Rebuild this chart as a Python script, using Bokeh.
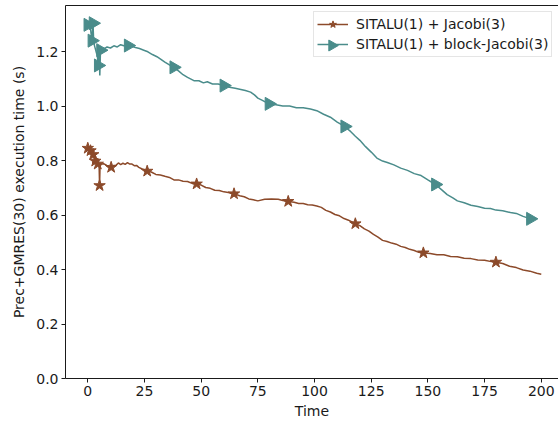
import math
from bokeh.plotting import figure
from bokeh.models import LinearAxis, FixedTicker, Legend, LegendItem
from bokeh.embed import file_html
from bokeh.resources import INLINE

# ---------------- data ----------------
jacobi_time = [0.0, 0.3, 0.6, 0.9, 1.2, 1.5, 1.8, 2.1, 2.4, 2.7, 3.0, 3.3, 3.6, 4.0, 4.4,
               4.8, 5.0, 5.2, 5.4, 6.0, 7.0, 8.0, 9.0, 10.3, 11.5, 12.5, 13.5, 14.5, 15.5,
               16.5, 17.5, 18.5, 19.5, 20.5, 21.5, 22.5, 24.0, 26.2, 28.0, 30.0, 32.0, 34.0,
               36.0, 38.0, 40.0, 42.0, 44.0, 46.0, 48.0, 50.0, 52.0, 54.0, 56.0, 58.0, 60.0,
               62.0, 64.5, 67.0, 69.0, 71.0, 73.0, 75.0, 78.0, 81.0, 84.0, 86.0, 88.4, 91.0,
               93.0, 95.0, 97.0, 99.0, 101.0, 103.0, 105.0, 107.0, 109.0, 111.0, 113.0,
               115.0, 118.0, 120.0, 122.0, 124.0, 126.0, 128.0, 130.0, 132.0, 134.0, 136.0,
               138.0, 140.0, 142.0, 144.0, 146.0, 148.0, 151.0, 154.0, 157.0, 160.0, 163.0,
               166.0, 169.0, 172.0, 175.0, 178.0, 180.0, 183.0, 186.0, 189.0, 192.0, 195.0,
               198.0, 200.0]
jacobi_value = [0.845, 0.836, 0.842, 0.830, 0.836, 0.824, 0.829, 0.816, 0.822, 0.810, 0.808,
                0.798, 0.797, 0.788, 0.787, 0.780, 0.781, 0.708, 0.780, 0.787, 0.788, 0.784,
                0.777, 0.775, 0.782, 0.783, 0.791, 0.785, 0.790, 0.786, 0.792, 0.787, 0.787,
                0.781, 0.782, 0.775, 0.769, 0.761, 0.758, 0.749, 0.747, 0.742, 0.738, 0.729,
                0.729, 0.724, 0.723, 0.716, 0.714, 0.710, 0.701, 0.698, 0.691, 0.690, 0.685,
                0.683, 0.678, 0.671, 0.667, 0.659, 0.656, 0.652, 0.658, 0.659, 0.658, 0.653,
                0.650, 0.647, 0.642, 0.642, 0.638, 0.637, 0.633, 0.628, 0.617, 0.611, 0.602,
                0.597, 0.587, 0.581, 0.568, 0.561, 0.549, 0.541, 0.529, 0.519, 0.507, 0.503,
                0.497, 0.493, 0.485, 0.481, 0.474, 0.470, 0.463, 0.461, 0.459, 0.454, 0.454,
                0.448, 0.447, 0.441, 0.440, 0.435, 0.434, 0.429, 0.427, 0.422, 0.412, 0.407,
                0.398, 0.394, 0.386, 0.383]
jacobi_marker_idx = [0, 4, 8, 11, 14, 17, 23, 37, 48, 56, 66, 80, 95, 106]

block_time = [0.0, 0.5, 1.0, 1.5, 1.8, 2.3, 2.6, 3.0, 3.4, 3.8, 4.2, 4.6, 5.0, 5.3, 5.6,
              6.5, 7.5, 8.5, 10.0, 11.5, 13.0, 14.5, 15.9, 17.8, 19.5, 21.0, 22.8, 24.7,
              26.5, 28.5, 30.5, 32.1, 34.0, 36.0, 37.9, 40.0, 42.0, 44.0, 46.8, 49.0, 51.0,
              52.7, 55.0, 57.5, 60.0, 62.5, 65.0, 67.5, 69.5, 71.8, 73.5, 75.0, 77.0, 79.9,
              83.0, 86.0, 89.0, 92.0, 95.0, 98.2, 101.0, 104.0, 107.0, 110.0, 113.3, 116.0,
              118.0, 120.0, 122.5, 125.0, 127.5, 130.0, 132.1, 135.0, 138.0, 141.0, 144.0,
              147.0, 150.0, 153.3, 156.0, 158.5, 161.0, 163.0, 166.0, 169.0, 172.0, 175.0,
              177.6, 180.0, 183.0, 186.4, 189.0, 192.0, 195.2]
block_value = [1.298, 1.290, 1.300, 1.262, 1.240, 1.304, 1.236, 1.220, 1.208, 1.195, 1.188,
               1.149, 1.195, 1.112, 1.205, 1.209, 1.212, 1.217, 1.213, 1.221, 1.217, 1.225,
               1.221, 1.222, 1.219, 1.215, 1.211, 1.205, 1.199, 1.189, 1.181, 1.172, 1.161,
               1.151, 1.142, 1.129, 1.115, 1.105, 1.093, 1.093, 1.085, 1.089, 1.081, 1.081,
               1.075, 1.069, 1.065, 1.061, 1.057, 1.051, 1.041, 1.029, 1.021, 1.008, 1.005,
               1.000, 1.000, 0.994, 0.994, 0.989, 0.983, 0.970, 0.959, 0.941, 0.925, 0.906,
               0.889, 0.874, 0.851, 0.831, 0.809, 0.798, 0.793, 0.784, 0.772, 0.764, 0.752,
               0.745, 0.729, 0.712, 0.693, 0.675, 0.663, 0.652, 0.645, 0.636, 0.631, 0.625,
               0.624, 0.618, 0.616, 0.609, 0.606, 0.595, 0.586]
block_marker_idx = [0, 4, 5, 11, 14, 23, 34, 44, 53, 64, 79, 94]

series_labels = ["SITALU(1) + Jacobi(3)", "SITALU(1) + block-Jacobi(3)"]
x_ticks = [0, 25, 50, 75, 100, 125, 150, 175, 200]
y_ticks = [0.0, 0.2, 0.4, 0.6, 0.8, 1.0, 1.2]

BROWN = "#8c4a2a"
TEAL = "#4a8c8b"
INK = "#1a1a1a"
FONT = "DejaVu Sans"
FS = "14px"

W, H = 558, 423
LEFT, RIGHT, TOP, BOTTOM = 65, 0, 5, 45
X0, X1 = -9.83, 207.6
Y0, Y1 = 0.0, 1.369

p = figure(width=W, height=H, output_backend="svg", toolbar_location=None,
           x_range=(X0, X1), y_range=(Y0, Y1),
           min_border_left=LEFT, min_border_right=RIGHT, min_border_top=TOP,
           min_border_bottom=BOTTOM)
p.outline_line_color = None
p.grid.visible = False
p.background_fill_color = "white"
p.border_fill_color = "white"

for ax in (p.xaxis[0], p.yaxis[0]):
    ax.axis_line_color = INK
    ax.axis_line_width = 1
    ax.major_tick_line_color = INK
    ax.major_tick_out = 4
    ax.major_tick_in = 0
    ax.minor_tick_line_color = None
    ax.major_label_text_font = FONT
    ax.major_label_text_font_size = FS
    ax.major_label_text_color = INK
    ax.axis_label_text_font = FONT
    ax.axis_label_text_font_size = FS
    ax.axis_label_text_font_style = "normal"
    ax.axis_label_text_color = INK
    ax.major_label_standoff = 3

p.xaxis[0].ticker = FixedTicker(ticks=x_ticks)
p.yaxis[0].ticker = FixedTicker(ticks=y_ticks)
p.yaxis[0].major_label_overrides = {t: f"{t:.1f}" for t in y_ticks}
p.xaxis[0].axis_label = "Time"
p.xaxis[0].axis_label_standoff = 4
p.yaxis[0].axis_label = "Prec+GMRES(30) execution time (s)"
p.yaxis[0].axis_label_standoff = 6

top = LinearAxis(ticker=FixedTicker(ticks=[]), major_tick_line_color=None,
                 minor_tick_line_color=None, major_label_text_font_size="0px",
                 axis_line_color=INK, axis_line_width=1)
p.add_layout(top, "above")

jx = [jacobi_time[i] for i in jacobi_marker_idx]
jy = [jacobi_value[i] for i in jacobi_marker_idx]
bx = [block_time[i] for i in block_marker_idx]
by = [block_value[i] for i in block_marker_idx]

l1 = p.line(jacobi_time, jacobi_value, line_color=BROWN, line_width=1.5)
m1 = p.scatter(jx, jy, marker="star", size=12, fill_color=BROWN, line_color=BROWN)
l2 = p.line(block_time, block_value, line_color=TEAL, line_width=1.5)
m2 = p.scatter(bx, by, marker="triangle", angle=-math.pi / 2, size=13,
               fill_color=TEAL, line_color=TEAL)

# legend box placement (screen pixels)
LEG_LEFT, LEG_TOP = 313, 13
PAD, GW, GH, SP = 3, 31, 18, 2
leg_h = 2 * PAD + 2 * GH + SP
legend = Legend(items=[LegendItem(label=series_labels[0], renderers=[l1, m1]),
                       LegendItem(label=series_labels[1], renderers=[l2])],
                location=(LEG_LEFT - LEFT, (H - BOTTOM) - (LEG_TOP + leg_h)))
legend.margin = 0
legend.padding = PAD
legend.spacing = SP
legend.glyph_width = GW
legend.glyph_height = GH
legend.label_height = GH
legend.label_standoff = 8
legend.label_text_font = FONT
legend.label_text_font_size = FS
legend.label_text_color = INK
legend.border_line_color = "#cccccc"
legend.border_line_width = 1
legend.background_fill_alpha = 0.0
p.add_layout(legend, "center")

# right-pointing triangle icon for the second legend row (Bokeh legends ignore marker angle)
fw = W - LEFT - RIGHT
fh = H - TOP - BOTTOM
icon_sx = LEG_LEFT + PAD + GW / 2
icon_sy = LEG_TOP + PAD + GH + SP + GH / 2
icon_x = X0 + (icon_sx - LEFT) * (X1 - X0) / fw
icon_y = Y1 - (icon_sy - TOP) * (Y1 - Y0) / fh
icon = p.scatter([icon_x], [icon_y], marker="triangle", angle=-math.pi / 2, size=11,
                 fill_color=TEAL, line_color=TEAL)

open("out.html", "w").write(file_html(p, INLINE))
